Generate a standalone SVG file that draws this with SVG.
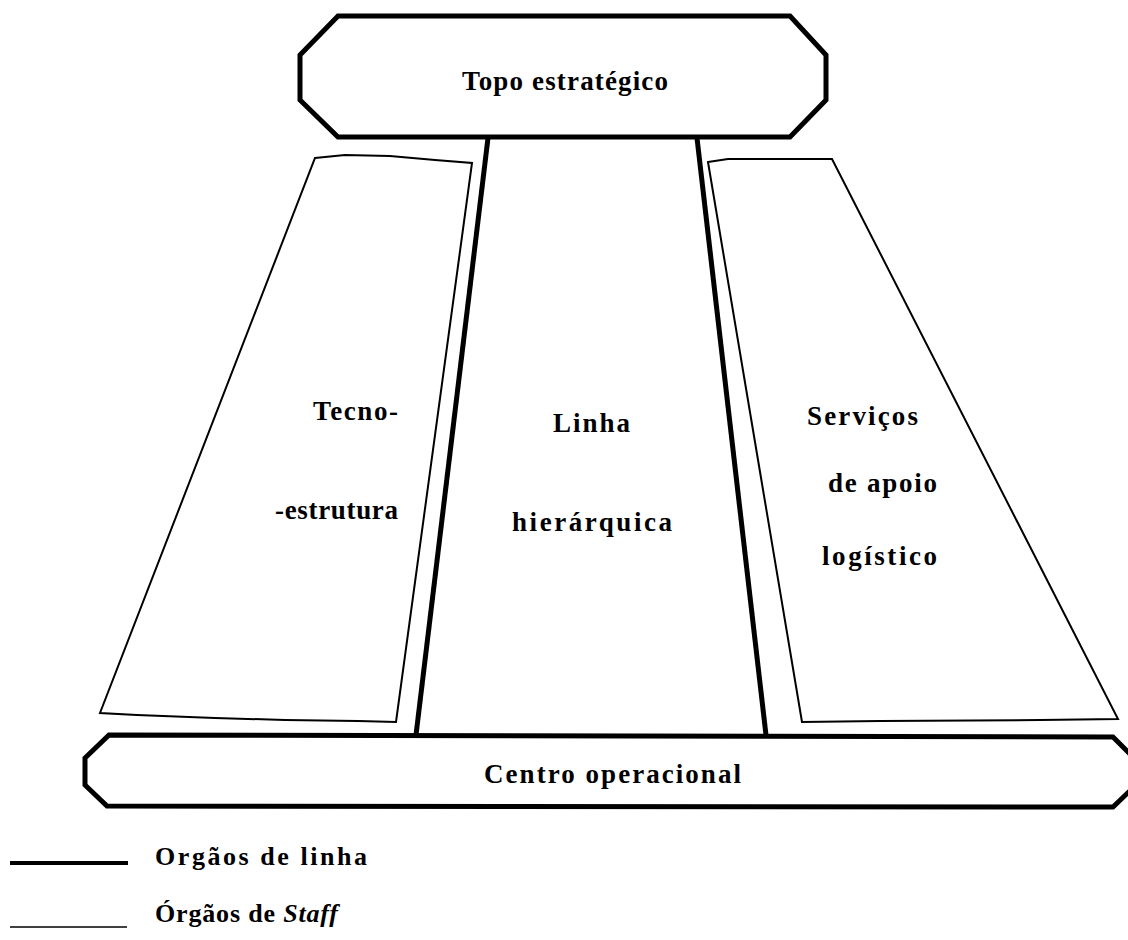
<svg xmlns="http://www.w3.org/2000/svg" width="1128" height="940" viewBox="0 0 1128 940">
<style>
.thick{fill:#fff;stroke:#000;stroke-width:5;stroke-linejoin:miter}
.thin{fill:#fff;stroke:#000;stroke-width:2;stroke-linejoin:miter}
.line{fill:none;stroke:#000;stroke-width:5;stroke-linecap:butt}
.t{font-family:"Liberation Serif","Times New Roman",serif;font-weight:bold;font-size:27px;fill:#000}
.lg{font-family:"Liberation Serif","Times New Roman",serif;font-weight:bold;font-size:26px;fill:#000}
</style>
<rect width="1128" height="940" fill="#fff"/>
<g id="tecnoestrutura">
<polygon class="thin" points="315,158 345,155 390,156 435,160 472,163 396,722 358,721 285,720 215,718 137,715 100,713"/>
<text class="t" x="313" y="420" textLength="85" lengthAdjust="spacing">Tecno-</text>
<text class="t" x="275" y="519" textLength="123" lengthAdjust="spacing">-estrutura</text>
</g>
<g id="servicos">
<polygon class="thin" points="708,162 728,159 832,159 1118,719 1040,720 880,721 802,722"/>
<text class="t" x="807" y="425" textLength="111" lengthAdjust="spacing">Serviços</text>
<text class="t" x="828" y="492" textLength="109" lengthAdjust="spacing">de apoio</text>
<text class="t" x="822" y="565" textLength="115" lengthAdjust="spacing">logístico</text>
</g>
<g id="connectors">
<line class="line" x1="488" y1="138" x2="416" y2="735"/>
<line class="line" x1="697" y1="138" x2="766" y2="735"/>
</g>
<g id="linha-hierarquica">
<text class="t" x="553" y="432" textLength="77" lengthAdjust="spacing">Linha</text>
<text class="t" x="512" y="531" textLength="160" lengthAdjust="spacing">hierárquica</text>
</g>
<g id="topo">
<polygon class="thick" points="338,16 790,16 826,55 826,100 790,137 338,137 300,100 300,55"/>
<text class="t" x="462" y="90" textLength="206" lengthAdjust="spacing">Topo estratégico</text>
</g>
<g id="centro">
<polygon class="thick" points="109,735 1113,737 1136,760 1136,785 1113,807 107,806 85,785 85,758"/>
<text class="t" x="484" y="783" textLength="257" lengthAdjust="spacing">Centro operacional</text>
</g>
<g id="legenda">
<line x1="10" y1="863" x2="128" y2="863" stroke="#000" stroke-width="4"/>
<text class="lg" x="155" y="865" textLength="212" lengthAdjust="spacing">Orgãos de linha</text>
<line x1="10" y1="927" x2="127" y2="927" stroke="#000" stroke-width="1.5"/>
<text class="lg" x="155" y="922" textLength="183" lengthAdjust="spacing">Órgãos de <tspan font-style="italic">Staff</tspan></text>
</g>
</svg>
